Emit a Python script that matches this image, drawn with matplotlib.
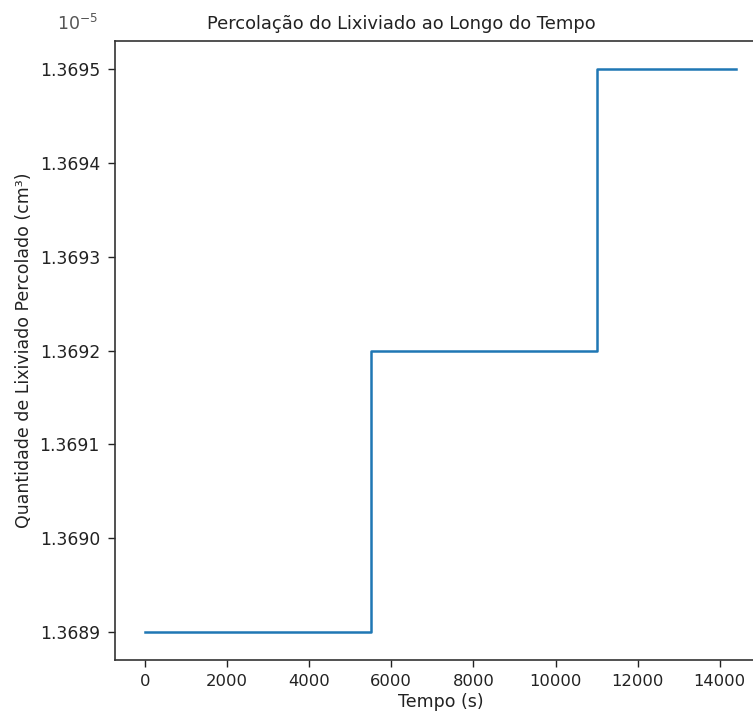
import matplotlib
matplotlib.use("Agg")
import matplotlib.pyplot as plt
from matplotlib.ticker import ScalarFormatter

# Data
tempo = [0, 5500, 11000, 14400]
quantidade = [1.3689e-5, 1.3692e-5, 1.3695e-5, 1.3695e-5]

title = "Percolação do Lixiviado ao Longo do Tempo"
xlabel = "Tempo (s)"
ylabel = "Quantidade de Lixiviado Percolado (cm³)"
xticks = [0, 2000, 4000, 6000, 8000, 10000, 12000, 14000]

plt.rcParams['font.family'] = ['DejaVu Sans']
fig = plt.figure(figsize=(7.53, 7.16), dpi=100)
ax = fig.add_axes([0.153, 0.0782, 0.864, 0.8645])

ax.step(tempo, quantidade, where='post', color='#1f77b4', linewidth=1.8)

ax.set_title(title, fontsize=12.9, color='#222222', pad=9, x=0.44)
ax.set_xlabel(xlabel, fontsize=12.5, color='#222222', labelpad=3)
ax.set_ylabel(ylabel, fontsize=12.5, color='#222222', labelpad=5)

fmt = ScalarFormatter(useOffset=False)
fmt.set_scientific(True)
fmt.set_powerlimits((0, 0))
ax.yaxis.set_major_formatter(fmt)
ax.yaxis.get_offset_text().set_visible(False)
ax.text(-0.026, 1.011, r"$10^{-5}$", transform=ax.transAxes, fontsize=12.5,
        color='#555555', ha='right', va='bottom', family='DejaVu Serif')

ax.set_xticks(xticks)
ax.tick_params(labelsize=11.8, colors='#222222', length=5, width=1.0)
ax.tick_params(axis='x', pad=5)
ax.tick_params(axis='y', labelsize=12.3, pad=6)
for s in ax.spines.values():
    s.set_linewidth(1.2)
    s.set_color('#333333')

fig.savefig("out.png", dpi=100)
